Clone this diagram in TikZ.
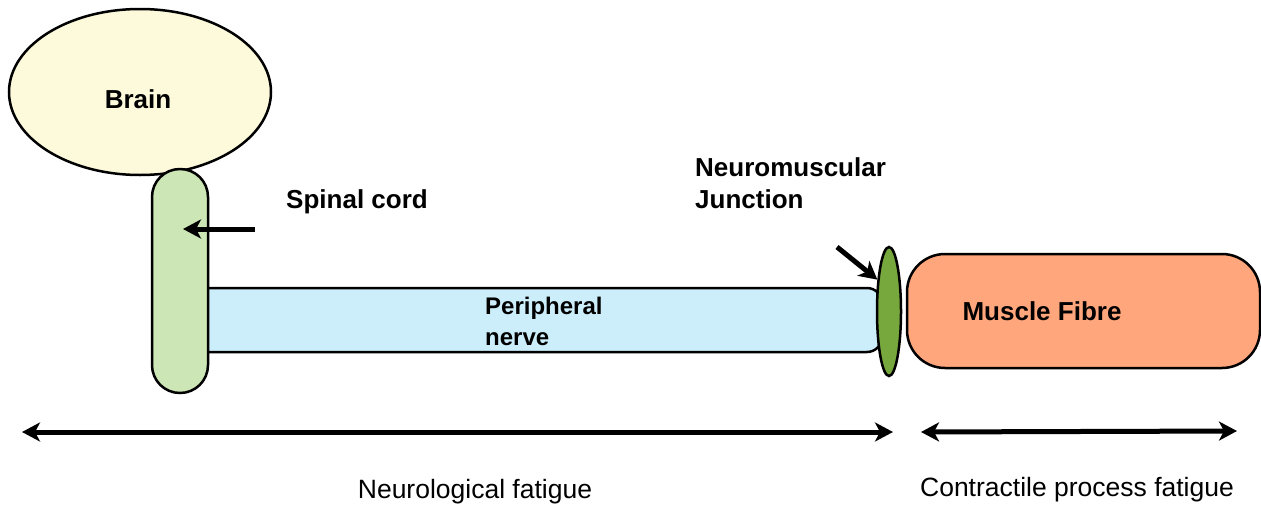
\documentclass[tikz,border=0pt]{standalone}
\usepackage{fontspec}
\setmainfont{Liberation Sans}
\usetikzlibrary{arrows.meta,shapes.geometric}
\definecolor{brainfill}{HTML}{FDFADC}
\definecolor{spinefill}{HTML}{CDE6B5}
\definecolor{nervefill}{HTML}{CCEEFB}
\definecolor{nmjfill}{HTML}{77A83D}
\definecolor{musclefill}{HTML}{FFA67C}
\begin{document}
\begin{tikzpicture}[x=1pt,y=-1pt,
  outl/.style={draw=black,line width=2.5pt,inner sep=0pt},
  lbl/.style={font=\bfseries\fontsize{26}{32}\selectfont,inner sep=0pt,align=left},
  nlbl/.style={font=\bfseries\fontsize{24}{31}\selectfont,inner sep=0pt,align=left},
  plainlbl/.style={font=\fontsize{26.5}{32}\selectfont,inner sep=0pt},
  tip/.tip={Stealth[length=18pt,width=19pt,inset=5pt]},
  arr/.style={line width=5pt,-tip},
  darr/.style={line width=5pt,tip-tip}]
\useasboundingbox (0,0) rectangle (1261,506);

% brain
\node[outl,ellipse,fill=brainfill,minimum width=262pt,minimum height=166pt] (brain) at (140,92) {};
\node[lbl] (brainlbl) at (138,99) {Brain};

% peripheral nerve (left end hidden under spinal cord)
\node[outl,rectangle,rounded corners=15pt,fill=nervefill,minimum width=697pt,minimum height=64pt] (nerve) at (533.5,320) {};
\node[nlbl,anchor=west] (nervelbl) at (485,321) {Peripheral\\nerve};

% spinal cord
\node[outl,rectangle,rounded corners=27.9pt,fill=spinefill,minimum width=56pt,minimum height=224pt] (spinal) at (180,281) {};
\node[lbl,anchor=west] (spinallbl) at (286,202) {Spinal cord};
\coordinate (sa) at (255,229);
\coordinate (sb) at (183,229);
\draw[arr] (sa) -- (sb);

% neuromuscular junction
\node[outl,ellipse,fill=nmjfill,minimum width=24pt,minimum height=129pt] (nmj) at (889,311.5) {};
\node[lbl,anchor=west] (nmjlbl) at (695,183) {Neuromuscular\\Junction};
\coordinate (na) at (837,247);
\draw[arr] (na) -- (nmj.110);

% muscle fibre
\node[outl,rectangle,rounded corners=38pt,fill=musclefill,minimum width=353pt,minimum height=114pt] (muscle) at (1083.5,311) {};
\node[lbl] (musclelbl) at (1042,311) {Muscle Fibre};

% extents
\coordinate (l1) at (22,432);
\coordinate (l2) at (893,432);
\coordinate (r1) at (921,432);
\coordinate (r2) at (1237,431);
\draw[darr] (l1) -- (l2);
\draw[darr] (r1) -- (r2);
\node[plainlbl] (neurolbl) at (475,492) {Neurological fatigue};
\node[plainlbl] (contrlbl) at (1077,490) {Contractile process fatigue};
\end{tikzpicture}
\end{document}
